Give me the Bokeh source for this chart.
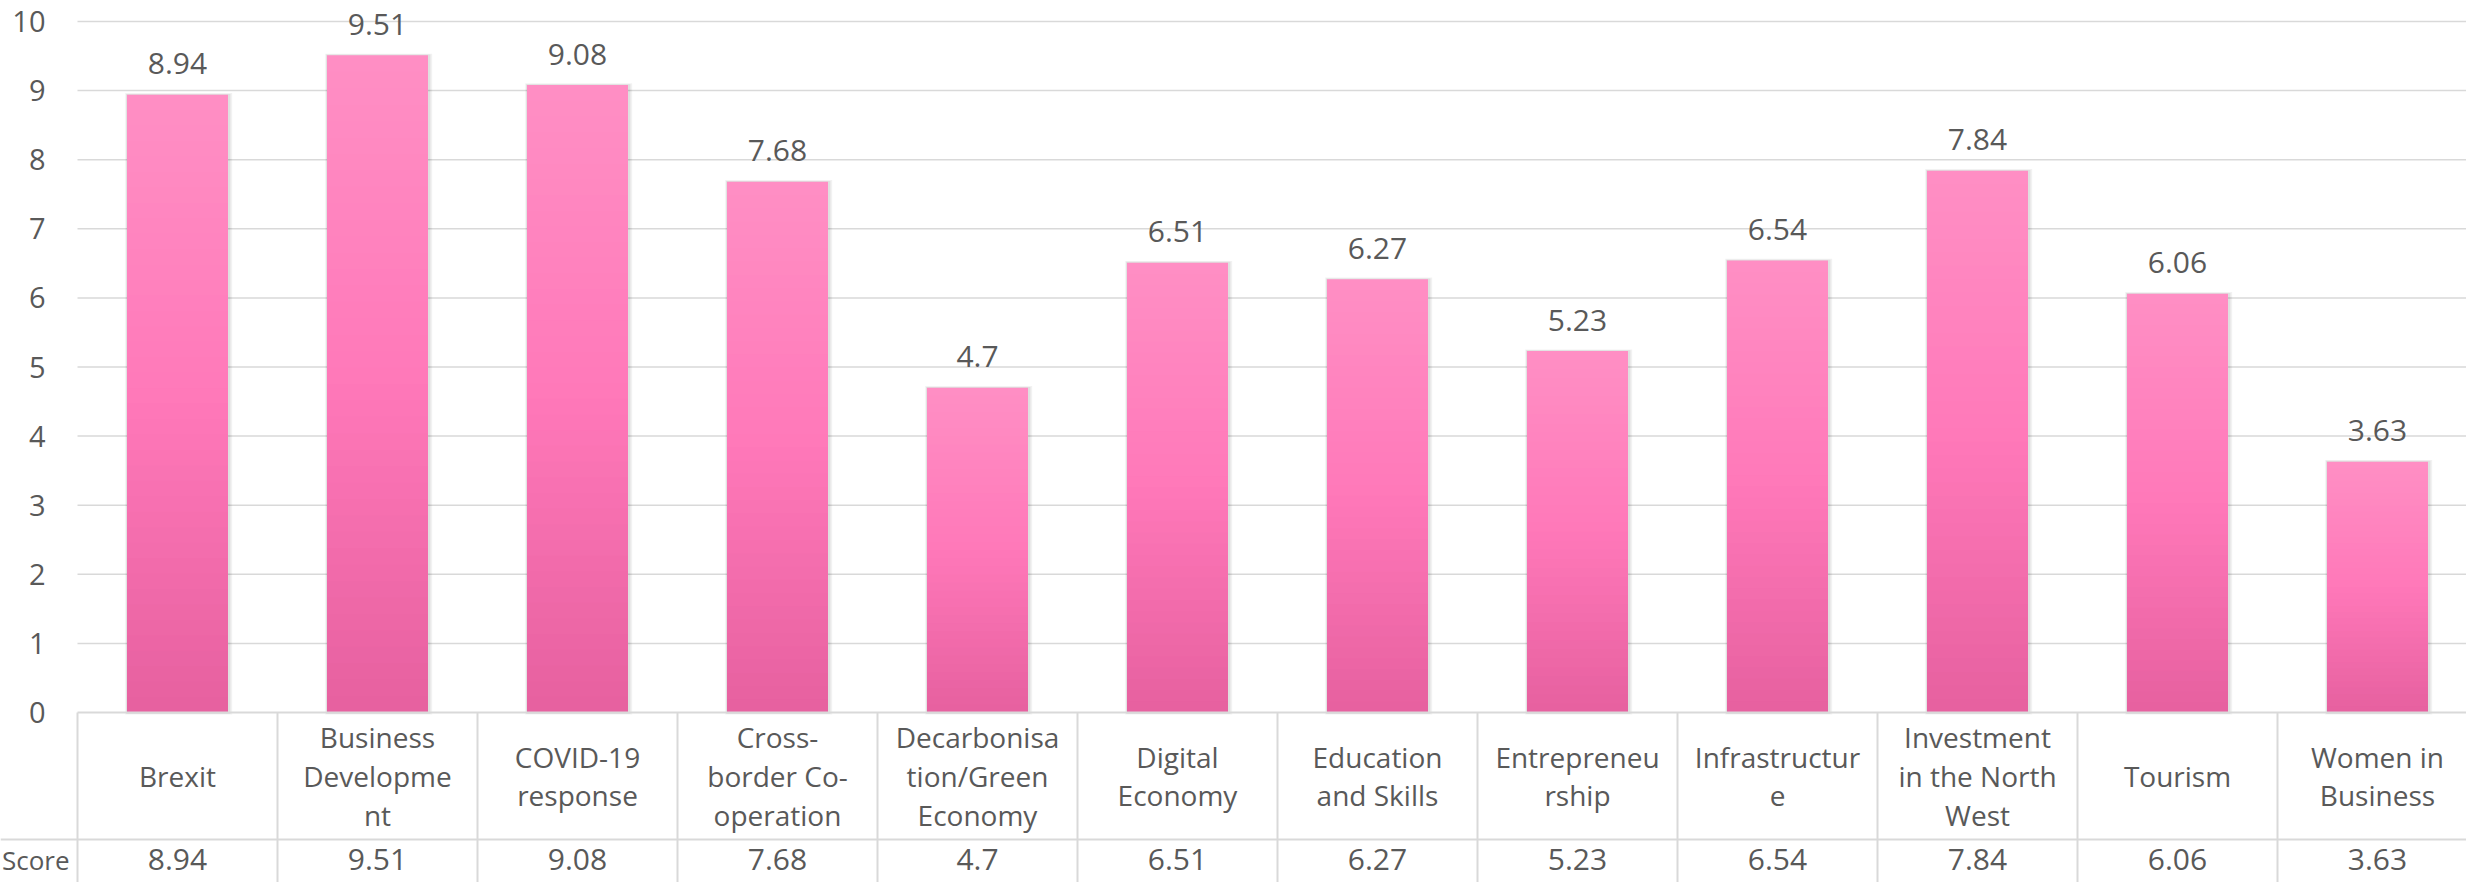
from bokeh.plotting import figure
from bokeh.models import Range1d, ColumnDataSource
from bokeh.core.properties import value
from bokeh.embed import file_html
from bokeh.resources import INLINE

# ---- data ----
categories = ["Brexit", "Business Development", "COVID-19 response", "Cross-border Co-operation",
              "Decarbonisation/Green Economy", "Digital Economy", "Education and Skills",
              "Entrepreneurship", "Infrastructure", "Investment in the North West",
              "Tourism", "Women in Business"]
category_labels = ["Brexit", "Business\nDevelopme\nnt", "COVID-19\nresponse", "Cross-\nborder Co-\noperation",
                   "Decarbonisa\ntion/Green\nEconomy", "Digital\nEconomy", "Education\nand Skills",
                   "Entrepreneu\nrship", "Infrastructur\ne", "Investment\nin the North\nWest",
                   "Tourism", "Women in\nBusiness"]
scores = [8.94, 9.51, 9.08, 7.68, 4.7, 6.51, 6.27, 5.23, 6.54, 7.84, 6.06, 3.63]
score_labels = ["8.94", "9.51", "9.08", "7.68", "4.7", "6.51", "6.27", "5.23", "6.54", "7.84", "6.06", "3.63"]
series_name = "Score"
y_ticks = [0, 1, 2, 3, 4, 5, 6, 7, 8, 9, 10]
y_tick_labels = ["0", "1", "2", "3", "4", "5", "6", "7", "8", "9", "10"]

FONT = "Open Sans"
TXT = "#595959"
GRID = "#d9d9d9"

W, H = 2466, 882
LEFT = 77                # canvas x of first table column
Y10, Y0 = 21, 712        # canvas y of value 10 and value 0
PPU = (Y0 - Y10) / 10.0  # pixels per value unit
COLW = 200.0             # pixels per category

y_max = 10 + Y10 / PPU
y_min = -(H - Y0) / PPU
x_min = -LEFT / COLW
x_max = (W - LEFT) / COLW

p = figure(width=W, height=H, output_backend="svg", toolbar_location=None,
           x_range=Range1d(x_min, x_max), y_range=Range1d(y_min, y_max),
           x_axis_type=None, y_axis_type=None,
           min_border_left=0, min_border_top=0, min_border_right=0, min_border_bottom=0)
p.outline_line_color = None
p.background_fill_color = "white"
p.border_fill_color = "white"
p.grid.visible = False

n = len(categories)
xs = [i + 0.5 for i in range(n)]
BW = 0.505

# value-axis gridlines and tick labels
p.segment(x0=0, x1=n, y0=y_ticks[1:], y1=y_ticks[1:], line_color=GRID, line_width=1.5)
p.text(x=-32 / COLW, y=y_ticks, text=y_tick_labels, text_align="right", text_baseline="middle",
       text_font=value(FONT), text_font_size="29px", text_color=TXT)

# shadow
p.vbar(x=[x + 0.006 for x in xs], top=[s + 0.025 for s in scores], bottom=-0.03, width=BW + 0.03,
       fill_color="black", fill_alpha=0.05, line_color=None)
p.vbar(x=[x + 0.004 for x in xs], top=[s + 0.012 for s in scores], bottom=-0.02, width=BW + 0.016,
       fill_color="black", fill_alpha=0.08, line_color=None)

# gradient bars: nested bars from the top colour down, no seams
def lerp(c1, c2, t):
    return tuple(int(round(a + (b - a) * t)) for a, b in zip(c1, c2))

c_top = (0xFF, 0x8F, 0xC4)
c_mid = (0xFF, 0x78, 0xB9)
c_bot = (0xE6, 0x60, 0x9F)
N = 40
bx, btop, bcol = [], [], []
for k in range(N - 1, -1, -1):
    t = (k + 0.5) / N  # 0 bottom -> 1 top
    if t < 0.5:
        c = lerp(c_bot, c_mid, t / 0.5)
    else:
        c = lerp(c_mid, c_top, (t - 0.5) / 0.5)
    for x, s in zip(xs, scores):
        bx.append(x)
        btop.append(s * (k + 1) / N)
        bcol.append("#%02x%02x%02x" % c)
p.vbar(x="x", top="top", bottom=0, width=BW, fill_color="color", line_color=None,
       source=ColumnDataSource(dict(x=bx, top=btop, color=bcol)))

# value labels above bars
p.text(x=xs, y=scores, text=score_labels, text_align="center", text_baseline="middle",
       y_offset=-31, text_font=value(FONT), text_font_size="30px", text_color=TXT)

# data table
ROW_Y = -(839 - Y0) / PPU
p.segment(x0=list(range(n + 1)), x1=list(range(n + 1)), y0=0, y1=y_min,
          line_color=GRID, line_width=2)
p.segment(x0=[0, x_min], x1=[n, n], y0=[0, ROW_Y], y1=[0, ROW_Y], line_color=GRID, line_width=2)

p.text(x=xs, y=ROW_Y / 2, text=category_labels, text_align="center", text_baseline="middle",
       text_font=value(FONT), text_font_size="28px", text_color=TXT, text_line_height=1.02)
SCORE_Y = -(859 - Y0) / PPU
p.text(x=xs, y=SCORE_Y, text=score_labels, text_align="center", text_baseline="middle",
       text_font=value(FONT), text_font_size="30px", text_color=TXT)
p.text(x=[-8 / COLW], y=[SCORE_Y], text=[series_name], text_align="right", text_baseline="middle",
       text_font=value(FONT), text_font_size="26px", text_color=TXT)

open("out.html", "w").write(file_html(p, INLINE))
